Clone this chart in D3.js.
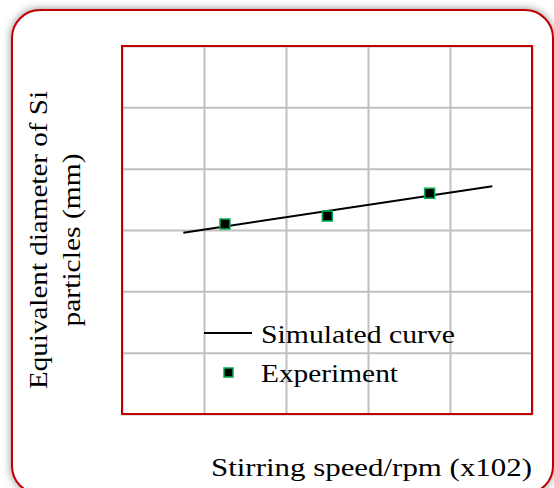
<!DOCTYPE html>
<html><head><meta charset="utf-8">
<script src="https://cdn.jsdelivr.net/npm/d3@7"></script>
<style>body{margin:0;background:#fff}svg{display:block}</style>
</head><body>
<script>
// Data (abstract grid units: x 0..5, y 0..6)
const xTicks = [0, 1, 2, 3, 4, 5];
const yTicks = [0, 1, 2, 3, 4, 5, 6];
const expX = [1.256, 2.504, 3.752];
const expY = [3.098, 3.228, 3.599];
const simX = [0.748, 4.516];
const simY = [2.956, 3.713];
const legendLabels = ["Simulated curve", "Experiment"];
const xTitle = "Stirring speed/rpm (x102)";
const yTitleLines = ["Equivalent diameter of Si", "particles (mm)"];

const W = 554, H = 488;
const svg = d3.select("body").append("svg").attr("width", W).attr("height", H);
const defs = svg.append("defs");
const f = defs.append("filter").attr("id", "sh").attr("x", "-10%").attr("y", "-10%").attr("width", "120%").attr("height", "120%");
f.append("feDropShadow").attr("dx", 0).attr("dy", 0).attr("stdDeviation", 4).attr("flood-color", "#000").attr("flood-opacity", 0.45);

svg.append("rect").attr("x", 12).attr("y", 10).attr("width", 541).attr("height", 484)
  .attr("rx", 28).attr("fill", "#fff").attr("stroke", "#c00000").attr("stroke-width", 2)
  .attr("filter", "url(#sh)");

const pl = 122, pr = 532, pt = 46, pb = 414;
const x = d3.scaleLinear().domain([0, 5]).range([pl, pr]);
const y = d3.scaleLinear().domain([0, 6]).range([pb, pt]);

const g = svg.append("g");
g.append("g").attr("transform", `translate(0,${pb})`)
  .call(d3.axisBottom(x).tickValues(xTicks).tickSize(-(pb - pt)).tickFormat(""))
  .call(a => { a.select(".domain").remove(); a.selectAll("line").attr("stroke", "#c0c0c0").attr("stroke-width", 2); });
g.append("g").attr("transform", `translate(${pl},0)`)
  .call(d3.axisLeft(y).tickValues(yTicks).tickSize(-(pr - pl)).tickFormat(""))
  .call(a => { a.select(".domain").remove(); a.selectAll("line").attr("stroke", "#c0c0c0").attr("stroke-width", 2); });

g.append("rect").attr("x", pl).attr("y", pt).attr("width", pr - pl).attr("height", pb - pt)
  .attr("fill", "none").attr("stroke", "#c00000").attr("stroke-width", 2);

const simData = simX.map((v, i) => [v, simY[i]]);
g.append("path").datum(simData)
  .attr("d", d3.line().x(d => x(d[0])).y(d => y(d[1])))
  .attr("fill", "none").attr("stroke", "#000").attr("stroke-width", 2);

const ms = 10;
g.selectAll(".pt").data(expX.map((v, i) => [v, expY[i]])).join("rect")
  .attr("x", d => x(d[0]) - ms / 2).attr("y", d => y(d[1]) - ms / 2)
  .attr("width", ms).attr("height", ms)
  .attr("fill", "#000").attr("stroke", "#00b050").attr("stroke-width", 1.5);

const font = "'Liberation Serif', 'Times New Roman', serif";
// legend
svg.append("rect").attr("x", pl + 82).attr("y", 332).attr("width", 48).attr("height", 2).attr("fill", "#000");
svg.append("rect").attr("x", 224).attr("y", 368).attr("width", 9).attr("height", 9)
  .attr("fill", "#000").attr("stroke", "#00b050").attr("stroke-width", 1.5);
const leg = [[legendLabels[0], 343, 194], [legendLabels[1], 382, 137]];
leg.forEach(([t, yy, len]) => {
  svg.append("text").attr("x", 261).attr("y", yy).text(t)
    .attr("font-family", font).attr("font-size", 26)
    .attr("textLength", len).attr("lengthAdjust", "spacingAndGlyphs").attr("fill", "#000");
});

svg.append("text").attr("x", 211).attr("y", 476).text(xTitle)
  .attr("font-family", font).attr("font-size", 26)
  .attr("textLength", 321).attr("lengthAdjust", "spacingAndGlyphs").attr("fill", "#000");

const yl = [[yTitleLines[0], 47, 298], [yTitleLines[1], 80, 173]];
yl.forEach(([t, bx, len]) => {
  svg.append("text").attr("transform", `translate(${bx},240) rotate(-90)`)
    .attr("text-anchor", "middle").text(t)
    .attr("font-family", font).attr("font-size", 26)
    .attr("textLength", len).attr("lengthAdjust", "spacingAndGlyphs").attr("fill", "#000");
});
</script>
</body></html>
